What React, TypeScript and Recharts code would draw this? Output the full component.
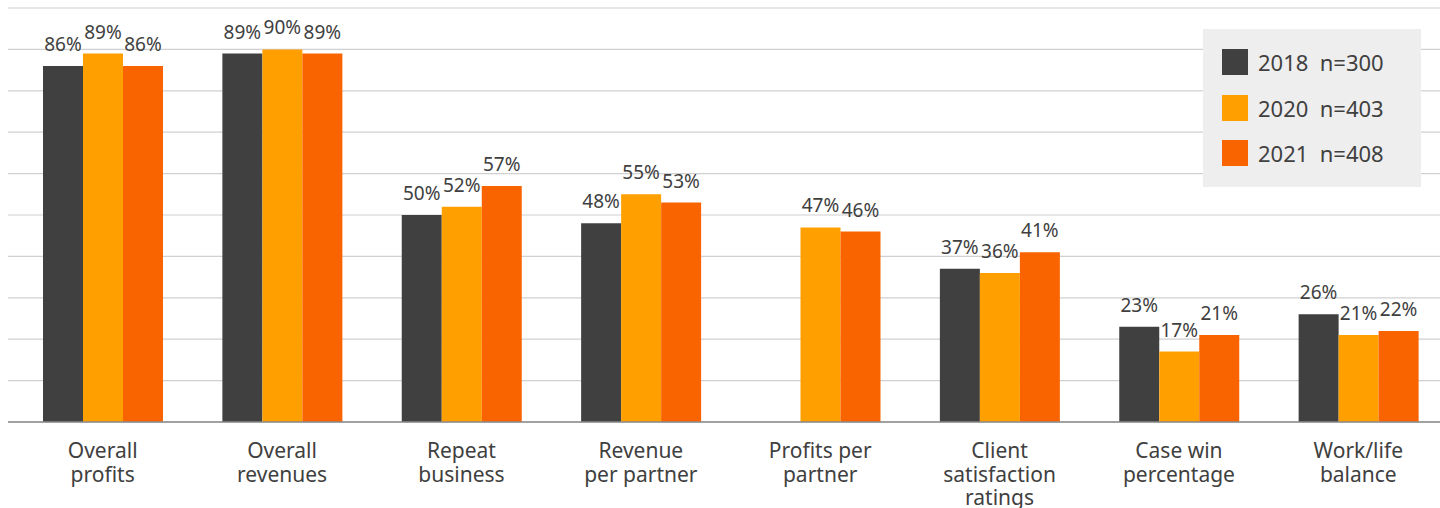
import React from "react";
import { BarChart, Bar, XAxis, YAxis, CartesianGrid, LabelList, Legend } from "recharts";

const categories = [
  "Overall\nprofits",
  "Overall\nrevenues",
  "Repeat\nbusiness",
  "Revenue\nper partner",
  "Profits per\npartner",
  "Client\nsatisfaction\nratings",
  "Case win\npercentage",
  "Work/life\nbalance",
];
const values2018: (number | null)[] = [86, 89, 50, 48, null, 37, 23, 26];
const values2020: (number | null)[] = [89, 90, 52, 55, 47, 36, 17, 21];
const values2021: (number | null)[] = [86, 89, 57, 53, 46, 41, 21, 22];
const seriesKeys = ["y2018", "y2020", "y2021"];
const seriesNames = ["2018  n=300", "2020  n=403", "2021  n=408"];
const seriesColors = ["#404040", "#FFA000", "#FA6400"];
const yTicks = [0, 10, 20, 30, 40, 50, 60, 70, 80, 90, 100];

const data = categories.map((category, i) => ({
  category,
  y2018: values2018[i],
  y2020: values2020[i],
  y2021: values2021[i],
}));

const FONT = "'Noto Sans', 'Open Sans', sans-serif";
const TEXT = "#404040";

const CategoryTick = (props: any) => {
  const { x, y, payload } = props;
  const lines = String(payload.value).split("\n");
  return (
    <text x={x} y={y} textAnchor="middle" fill={TEXT} fontSize={21} fontFamily={FONT}>
      {lines.map((l, i) => (
        <tspan key={i} x={x} y={y + 36 + i * 23.5}>
          {l}
        </tspan>
      ))}
    </text>
  );
};

const LegendBox = () => (
  <div
    style={{
      width: 218,
      height: 158,
      background: "#eeeeee",
      position: "relative",
      fontFamily: FONT,
    }}
  >
    {seriesNames.map((name, i) => (
      <div
        key={name}
        style={{ position: "absolute", left: 19, top: 20 + i * 45.5, height: 26, display: "flex", alignItems: "flex-start" }}
      >
        <div style={{ width: 26, height: 26, background: seriesColors[i] }} />
        <div
          style={{
            marginLeft: 10,
            fontSize: 22,
            lineHeight: "26px",
            color: TEXT,
            whiteSpace: "pre",
          }}
        >
          {name}
        </div>
      </div>
    ))}
  </div>
);

const fmt = (v: any) => (v == null ? "" : `${v}%`);

export default function App() {
  return (
    <div
      style={{
        position: "fixed",
        left: 0,
        top: 0,
        width: 1440,
        height: 508,
        overflow: "hidden",
        background: "#ffffff",
      }}
    >
      <BarChart
        width={1470}
        height={508}
        data={data}
        margin={{ top: 8, right: 0, bottom: 0, left: 8 }}
        barCategoryGap={30}
        barGap={0}
        style={{ fontFamily: FONT }}
      >
        <CartesianGrid vertical={false} stroke="#d0d0d0" strokeWidth={1.2} />
        <YAxis hide type="number" domain={[0, 100]} ticks={yTicks} />
        <XAxis
          dataKey="category"
          height={86}
          padding={{ left: 5, right: 22 }}
          tickSize={0}
          tickMargin={0}
          tickLine={false}
          interval={0}
          axisLine={{ stroke: "#8a8a8a", strokeWidth: 1.5 }}
          tick={(p: any) => <CategoryTick {...p} />}
        />
        <Legend
          layout="vertical"
          align="center"
          verticalAlign="middle"
          wrapperStyle={{ left: 1203, top: 29, width: 218, height: 158 }}
          content={() => <LegendBox />}
        />
        {seriesKeys.map((k, i) => (
          <Bar key={k} dataKey={k} name={seriesNames[i]} fill={seriesColors[i]} isAnimationActive={false}>
            <LabelList
              dataKey={k}
              position="top"
              offset={15}
              formatter={fmt}
              fill={TEXT}
              fontSize={19}
              fontFamily={FONT}
            />
          </Bar>
        ))}
      </BarChart>
    </div>
  );
}
